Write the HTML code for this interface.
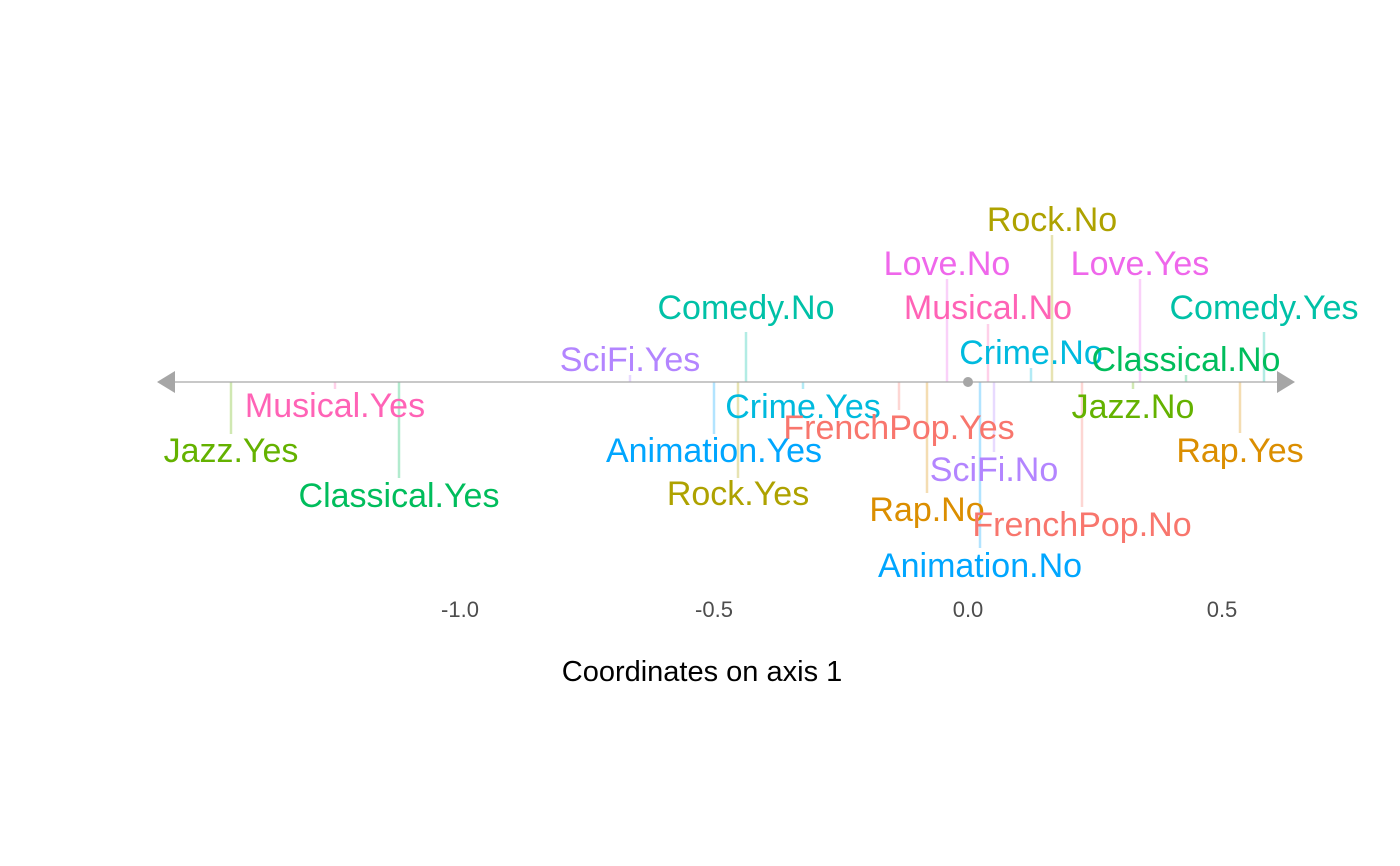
<!DOCTYPE html>
<html><head><meta charset="utf-8"><style>
html,body{margin:0;padding:0;background:#fff}
svg{display:block}
text{font-family:"Liberation Sans",Arial,sans-serif}
</style></head><body>
<svg width="1400" height="866" viewBox="0 0 1400 866" xmlns="http://www.w3.org/2000/svg">
<g stroke-width="2.5" stroke-opacity="0.3">
<line x1="231" y1="382" x2="231" y2="434" stroke="#64B200"/>
<line x1="335" y1="382" x2="335" y2="389" stroke="#FF63B6"/>
<line x1="399" y1="382" x2="399" y2="478" stroke="#00BD5C"/>
<line x1="630" y1="375" x2="630" y2="382" stroke="#B385FF"/>
<line x1="746" y1="332" x2="746" y2="382" stroke="#00C1A7"/>
<line x1="714" y1="382" x2="714" y2="434" stroke="#00A6FF"/>
<line x1="738" y1="382" x2="738" y2="478" stroke="#AEA200"/>
<line x1="803" y1="382" x2="803" y2="389" stroke="#00BADE"/>
<line x1="899" y1="382" x2="899" y2="410" stroke="#F8766D"/>
<line x1="927" y1="382" x2="927" y2="493" stroke="#DB8E00"/>
<line x1="947" y1="279" x2="947" y2="382" stroke="#EF67EB"/>
<line x1="980" y1="382" x2="980" y2="548" stroke="#00A6FF"/>
<line x1="988" y1="324" x2="988" y2="382" stroke="#FF63B6"/>
<line x1="994" y1="382" x2="994" y2="452" stroke="#B385FF"/>
<line x1="1031" y1="368" x2="1031" y2="382" stroke="#00BADE"/>
<line x1="1052" y1="235" x2="1052" y2="382" stroke="#AEA200"/>
<line x1="1082" y1="382" x2="1082" y2="507" stroke="#F8766D"/>
<line x1="1133" y1="382" x2="1133" y2="389" stroke="#64B200"/>
<line x1="1140" y1="279" x2="1140" y2="382" stroke="#EF67EB"/>
<line x1="1186" y1="375" x2="1186" y2="382" stroke="#00BD5C"/>
<line x1="1240" y1="382" x2="1240" y2="433" stroke="#DB8E00"/>
<line x1="1264" y1="332" x2="1264" y2="382" stroke="#00C1A7"/>
</g>
<line x1="170" y1="382" x2="1282" y2="382" stroke="#A6A6A6" stroke-width="1.2"/>
<polygon points="157,382 175,371 175,393" fill="#A6A6A6"/>
<polygon points="1295,382 1277,371 1277,393" fill="#A6A6A6"/>
<circle cx="968" cy="382" r="5" fill="#A6A6A6"/>
<g font-size="34" text-anchor="middle">
<text x="1052" y="231" fill="#AEA200">Rock.No</text>
<text x="947" y="275" fill="#EF67EB">Love.No</text>
<text x="1140" y="275" fill="#EF67EB">Love.Yes</text>
<text x="988" y="319" fill="#FF63B6">Musical.No</text>
<text x="746" y="319" fill="#00C1A7">Comedy.No</text>
<text x="1264" y="319" fill="#00C1A7">Comedy.Yes</text>
<text x="1031" y="364" fill="#00BADE">Crime.No</text>
<text x="630" y="371" fill="#B385FF">SciFi.Yes</text>
<text x="1186" y="371" fill="#00BD5C">Classical.No</text>
<text x="335" y="417" fill="#FF63B6">Musical.Yes</text>
<text x="803" y="418" fill="#00BADE">Crime.Yes</text>
<text x="1133" y="418" fill="#64B200">Jazz.No</text>
<text x="899" y="439" fill="#F8766D">FrenchPop.Yes</text>
<text x="231" y="462" fill="#64B200">Jazz.Yes</text>
<text x="714" y="462" fill="#00A6FF">Animation.Yes</text>
<text x="1240" y="462" fill="#DB8E00">Rap.Yes</text>
<text x="994" y="481" fill="#B385FF">SciFi.No</text>
<text x="738" y="505" fill="#AEA200">Rock.Yes</text>
<text x="399" y="507" fill="#00BD5C">Classical.Yes</text>
<text x="927" y="521" fill="#DB8E00">Rap.No</text>
<text x="1082" y="536" fill="#F8766D">FrenchPop.No</text>
<text x="980" y="577" fill="#00A6FF">Animation.No</text>
</g>
<g font-size="22" fill="#4D4D4D" text-anchor="middle">
<text x="460" y="617">-1.0</text>
<text x="714" y="617">-0.5</text>
<text x="968" y="617">0.0</text>
<text x="1222" y="617">0.5</text>
</g>
<text x="702" y="681" font-size="29" fill="#000" text-anchor="middle">Coordinates on axis 1</text>
</svg>
</body></html>
